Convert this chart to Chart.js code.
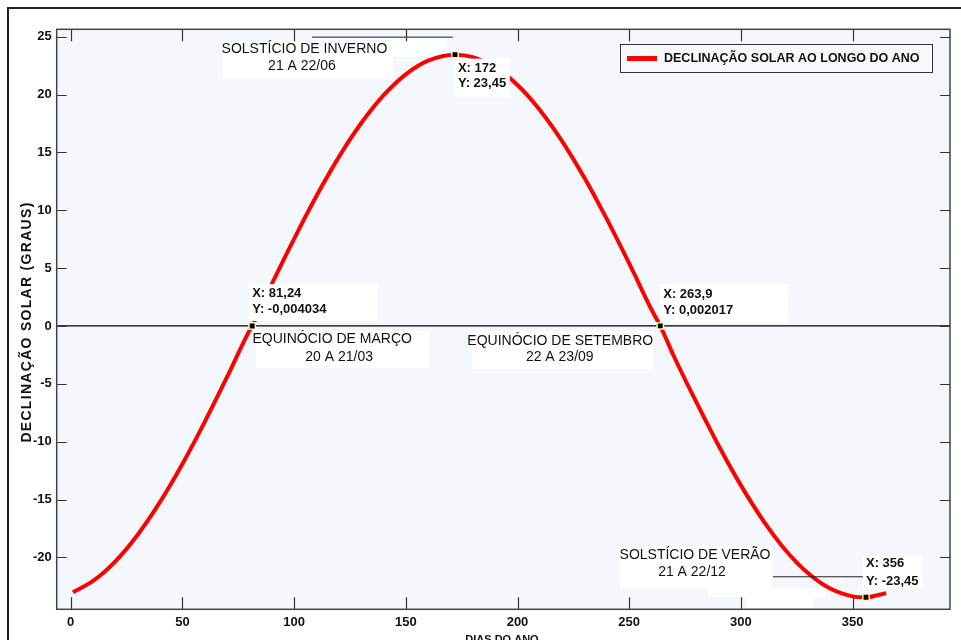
<!DOCTYPE html>
<html>
<head>
<meta charset="utf-8">
<script src="https://cdn.jsdelivr.net/npm/chart.js@4.4.1/dist/chart.umd.min.js"></script>
<style>
  html, body { margin: 0; padding: 0; background: #fff; }
  #wrap { width: 961px; height: 640px; position: relative; }
</style>
</head>
<body>
<div id="wrap"><canvas id="declChart" width="961" height="640"></canvas></div>
<script>
// days of the year and solar declination (degrees)
const days = [1, 10, 20, 30, 40, 50, 60, 70, 80, 81.24, 90, 100, 110, 120, 130, 140, 150, 160, 172,
              180, 190, 200, 210, 220, 230, 240, 250, 260, 263.9, 270, 280, 290, 300, 310, 320, 330,
              340, 350, 356, 365];
const decl = [-23.01, -22.04, -20.34, -18.04, -15.21, -11.93, -8.29, -4.41, -0.40, -0.004, 3.62, 7.53,
              11.23, 14.59, 17.52, 19.93, 21.75, 22.93, 23.45, 23.24, 22.36, 20.83, 18.67, 15.96, 12.79,
              9.23, 5.40, 1.41, 0.002, -2.62, -6.57, -10.33, -13.78, -16.82, -19.38, -21.35, -22.70,
              -23.37, -23.45, -23.09];

// data tips
const tipX = [81.24, 172, 263.9, 356];
const tipY = [-0.004034, 23.45, 0.002017, -23.45];
const eventLabels = [
  ['EQUINÓCIO DE MARÇO', '20 A 21/03'],
  ['SOLSTÍCIO DE INVERNO', '21 A 22/06'],
  ['EQUINÓCIO DE SETEMBRO', '22 A 23/09'],
  ['SOLSTÍCIO DE VERÃO', '21 A 22/12']
];

const xTicks = [0, 50, 100, 150, 200, 250, 300, 350];
const yTicks = [-20, -15, -10, -5, 0, 5, 10, 15, 20, 25];
const xRange = [-6.27, 393.6];
const yRange = [-24.49, 25.64];

const seriesName = 'DECLINAÇÃO SOLAR AO LONGO DO ANO';
const xTitle = 'DIAS DO ANO';
const yTitle = 'DECLINAÇÃO SOLAR (GRAUS)';

const FONT = '"Liberation Sans", Arial, sans-serif';
Chart.defaults.font.family = FONT;

function fmt(v) {
  return String(v).replace('.', ',');
}

// box / text offsets from each marker pixel
const tipLayout = [
  { box: [-3, -42, 128, 37], tx: 0, ty: [-32.5, -16.5] },
  { box: [0, 4, 55, 38], tx: 3, ty: [14, 29] },
  { box: [0, -42, 128, 39], tx: 3, ty: [-32, -16] },
  { box: [-3, -41, 59, 32], tx: 0, ty: [-34, -16] }
];
const eventLayout = [
  { box: [4, 5, 173, 37], c: [[80, 13], [87, 31]] },
  { box: [-232, -13, 170, 37], c: [[-150.5, -5], [-153, 12]], line: [-143, -2, -18] },
  { box: [-188, 5, 181, 38], c: [[-100, 15], [-100.5, 31]] },
  { box: [-246, -51, 152, 42], c: [[-171, -42], [-174, -25]], line: [-93, -3, -21] }
];

const decorPlugin = {
  id: 'decor',
  beforeDraw(chart) {
    const ctx = chart.ctx;
    const a = chart.chartArea;
    ctx.save();
    ctx.fillStyle = '#fff';
    ctx.fillRect(0, 0, chart.width, chart.height);
    ctx.fillStyle = '#f4f7fc';
    ctx.fillRect(a.left, a.top, a.right - a.left, a.bottom - a.top);
    ctx.restore();
  },
  beforeDatasetsDraw(chart) {
    // small stray white patches under the curve
    const ctx = chart.ctx;
    ctx.save();
    ctx.fillStyle = '#fff';
    ctx.fillRect(393, 40, 54, 17);
    ctx.fillRect(708, 588, 117, 9);
    ctx.fillRect(747, 597, 66, 11);
    ctx.restore();
  },
  beforeDatasetDraw(chart, args) {
    // annotation boxes sit over the curve but under the markers
    if (args.index !== 2) return;
    const ctx = chart.ctx;
    const xs = chart.scales.x, ys = chart.scales.y;
    ctx.save();
    ctx.fillStyle = '#fff';
    tipX.forEach((v, i) => {
      const px = xs.getPixelForValue(v), py = ys.getPixelForValue(tipY[i]);
      const b = tipLayout[i].box;
      ctx.fillRect(px + b[0], py + b[1], b[2], b[3]);
      const e = eventLayout[i].box;
      ctx.fillRect(px + e[0], py + e[1], e[2], e[3]);
    });
    ctx.restore();
  },
  afterDatasetsDraw(chart) {
    const ctx = chart.ctx;
    const xs = chart.scales.x, ys = chart.scales.y;
    const a = chart.chartArea;
    ctx.save();
    ctx.fillStyle = '#111';
    ctx.textBaseline = 'middle';
    tipX.forEach((v, i) => {
      const px = xs.getPixelForValue(v), py = ys.getPixelForValue(tipY[i]);
      const t = tipLayout[i];
      ctx.font = 'bold 13px ' + FONT;
      ctx.textAlign = 'left';
      ctx.fillText('X: ' + fmt(v), px + t.tx, py + t.ty[0]);
      ctx.fillText('Y: ' + fmt(tipY[i]), px + t.tx, py + t.ty[1]);
      const e = eventLayout[i];
      ctx.font = '14px ' + FONT;
      ctx.textAlign = 'center';
      ctx.fillText(eventLabels[i][0], px + e.c[0][0], py + e.c[0][1]);
      ctx.fillText(eventLabels[i][1], px + e.c[1][0], py + e.c[1][1]);
      if (e.line) {
        ctx.strokeStyle = '#222';
        ctx.lineWidth = 1;
        ctx.beginPath();
        ctx.moveTo(px + e.line[0], py + e.line[2] + 0.5);
        ctx.lineTo(px + e.line[1], py + e.line[2] + 0.5);
        ctx.stroke();
      }
    });

    // tick marks pointing inward
    ctx.strokeStyle = '#333';
    ctx.lineWidth = 1.2;
    ctx.beginPath();
    yTicks.forEach(v => {
      const py = Math.round(ys.getPixelForValue(v)) + 0.5;
      ctx.moveTo(a.left, py); ctx.lineTo(a.left + 10, py);
      ctx.moveTo(a.right, py); ctx.lineTo(a.right - 10, py);
    });
    xTicks.forEach(v => {
      const px = Math.round(xs.getPixelForValue(v)) + 0.5;
      ctx.moveTo(px, a.bottom); ctx.lineTo(px, a.bottom - 12);
      ctx.moveTo(px, a.top); ctx.lineTo(px, a.top + 12);
    });
    ctx.stroke();

    // plot frame
    ctx.strokeStyle = '#444';
    ctx.lineWidth = 1.5;
    ctx.strokeRect(a.left, a.top, a.right - a.left, a.bottom - a.top);

    // legend
    ctx.fillStyle = '#f7f9fd';
    ctx.fillRect(620, 44, 312, 28);
    ctx.strokeStyle = '#333';
    ctx.lineWidth = 1;
    ctx.strokeRect(620.5, 44.5, 312, 28);
    ctx.strokeStyle = '#ff0000';
    ctx.lineWidth = 5;
    ctx.beginPath();
    ctx.moveTo(627, 58.5); ctx.lineTo(657, 58.5);
    ctx.stroke();
    ctx.fillStyle = '#111';
    ctx.font = 'bold 12.5px ' + FONT;
    ctx.textAlign = 'left';
    ctx.fillText(seriesName, 664, 59);

    // axis titles
    ctx.font = 'bold 14px ' + FONT;
    ctx.textAlign = 'center';
    ctx.save();
    ctx.translate(27, 322);
    ctx.rotate(-Math.PI / 2);
    ctx.letterSpacing = '1.3px';
    ctx.fillText(yTitle, 0, 0);
    ctx.restore();
    ctx.font = 'bold 11px ' + FONT;
    ctx.textBaseline = 'top';
    ctx.fillText(xTitle, 502, 634);

    // outer figure frame
    ctx.strokeStyle = '#222';
    ctx.lineWidth = 2;
    ctx.beginPath();
    ctx.moveTo(8, 640); ctx.lineTo(8, 8); ctx.lineTo(961, 8);
    ctx.stroke();
    ctx.restore();
  }
};

const ctx = document.getElementById('declChart').getContext('2d');
window.declChart = new Chart(ctx, {
  type: 'scatter',
  data: {
    datasets: [
      {
        label: 'zero',
        data: xRange.map(x => ({ x: x, y: 0 })),
        showLine: true,
        borderColor: '#000',
        borderWidth: 1.2,
        pointRadius: 0,
        order: 3
      },
      {
        label: seriesName,
        data: days.map((d, i) => ({ x: d, y: decl[i] })),
        showLine: true,
        borderColor: '#ff0000',
        borderWidth: 4,
        pointRadius: 0,
        cubicInterpolationMode: 'monotone',
        order: 2
      },
      {
        label: 'tips',
        data: tipX.map((x, i) => ({ x: x, y: tipY[i] })),
        pointStyle: 'rect',
        pointRadius: 4.5,
        backgroundColor: '#000',
        borderColor: '#fff7b0',
        borderWidth: 1.5,
        order: 1
      }
    ]
  },
  options: {
    responsive: false,
    animation: false,
    layout: { padding: { left: 0, top: 29.3, right: 11, bottom: 0 } },
    scales: {
      x: {
        type: 'linear',
        min: xRange[0],
        max: xRange[1],
        afterBuildTicks: s => { s.ticks = xTicks.map(v => ({ value: v })); },
        afterFit: s => { s.height = 30.7; },
        grid: { display: false, drawTicks: false },
        border: { display: false },
        ticks: { color: '#111', padding: 5, font: { size: 13, weight: 'bold' }, maxRotation: 0 }
      },
      y: {
        type: 'linear',
        min: yRange[0],
        max: yRange[1],
        afterBuildTicks: s => { s.ticks = yTicks.map(v => ({ value: v })); },
        afterFit: s => { s.width = 56.7; },
        grid: { display: false, drawTicks: false },
        border: { display: false },
        ticks: { color: '#111', padding: 5, font: { size: 13, weight: 'bold' } }
      }
    },
    plugins: {
      legend: { display: false },
      tooltip: { enabled: false }
    }
  },
  plugins: [decorPlugin]
});
</script>
</body>
</html>
